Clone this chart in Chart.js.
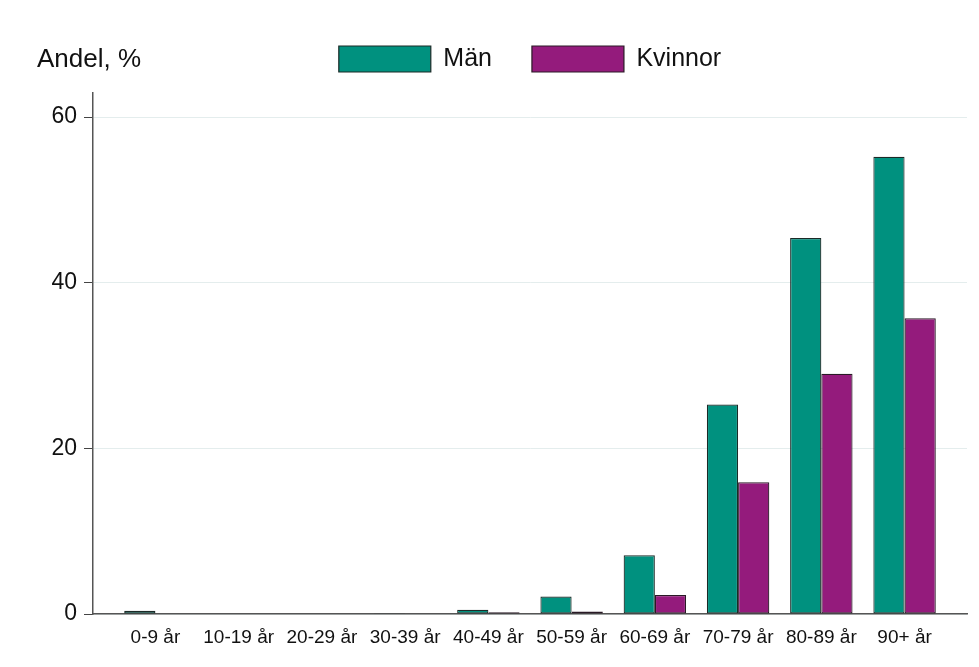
<!DOCTYPE html>
<html>
<head>
<meta charset="utf-8">
<script src="https://cdn.jsdelivr.net/npm/chart.js@4.4.0/dist/chart.umd.min.js"></script>
<style>
  html, body { margin: 0; padding: 0; background: #fff; }
  #wrap { width: 979px; height: 667px; }
</style>
</head>
<body>
<div id="wrap"><canvas id="c"></canvas></div>
<script>
// åldersgrupper och andel (%) per kön
const agegroups = ['0-9 år', '10-19 år', '20-29 år', '30-39 år', '40-49 år', '50-59 år', '60-69 år', '70-79 år', '80-89 år', '90+ år'];
const man = [0.4, 0, 0.05, 0.1, 0.5, 2.1, 7.1, 25.3, 45.4, 55.2];
const kvinnor = [0, 0, 0.05, 0.05, 0.2, 0.3, 2.3, 15.9, 29.0, 35.7];
const yTicks = [0, 20, 40, 60];

const FONT = "'Liberation Sans', Arial, sans-serif";
const pts = arr => arr.map((v, i) => ({ x: i, y: v }));

// rubriken uppe till vänster
const yTitle = {
  id: 'yTitle',
  afterDraw(chart) {
    const ctx = chart.ctx;
    ctx.save();
    ctx.font = `26px ${FONT}`;
    ctx.fillStyle = '#111';
    ctx.textBaseline = 'middle';
    ctx.fillText('Andel, %', 37, 60);
    ctx.restore();
  }
};

// lite mer luft under legenden
const legendGap = {
  id: 'legendGap',
  beforeInit(chart) {
    const fit = chart.legend.fit;
    chart.legend.fit = function () { fit.call(this); this.height += 11; };
  }
};

new Chart(document.getElementById('c'), {
  type: 'bar',
  data: {
    datasets: [
      { label: 'Män', data: pts(man), backgroundColor: '#00917f', borderColor: '#1b2a27', borderWidth: 1.2, borderSkipped: false },
      { label: 'Kvinnor', data: pts(kvinnor), backgroundColor: '#941b7c', borderColor: '#2a1a26', borderWidth: 1.2, borderSkipped: false },
    ],
  },
  options: {
    responsive: true, maintainAspectRatio: false, animation: false,
    categoryPercentage: 0.75, barPercentage: 1.0,
    layout: { padding: { top: 6, right: 12, left: 0, bottom: 0 } },
    plugins: {
      legend: {
        fullSize: false,
        labels: { boxWidth: 92, boxHeight: 26, padding: 40, color: '#111', font: { family: FONT, size: 25 } },
      },
      tooltip: { enabled: false },
    },
    scales: {
      x: {
        type: 'linear', min: -0.75, max: 9.75, offset: false,
        afterBuildTicks: s => { s.ticks = agegroups.map((_, i) => ({ value: i })); },
        afterFit: s => { s.height = 53; },
        grid: { display: false, offset: false, drawTicks: false },
        border: { color: '#555', width: 1.5 },
        ticks: { padding: 12, color: '#111', font: { family: FONT, size: 19 }, autoSkip: false, maxRotation: 0,
          callback: v => agegroups[v] },
      },
      y: {
        min: 0, max: 62.9,
        afterBuildTicks: s => { s.ticks = yTicks.map(v => ({ value: v })); },
        afterFit: s => { s.width = 93; },
        grid: { color: '#e4eded', lineWidth: 1, tickColor: '#444', tickLength: 9 },
        border: { color: '#555', width: 1.5 },
        ticks: { padding: 7, color: '#111', font: { family: FONT, size: 23 } },
      },
    },
  },
  plugins: [yTitle, legendGap],
});
</script>
</body>
</html>
